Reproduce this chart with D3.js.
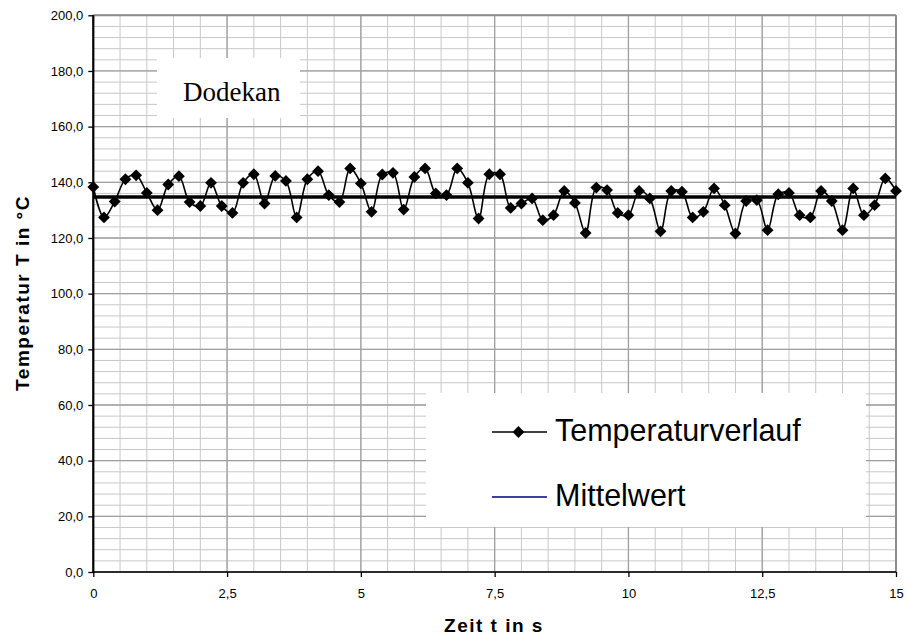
<!DOCTYPE html>
<html>
<head>
<meta charset="utf-8">
<script src="https://cdn.jsdelivr.net/npm/d3@7.9.0/dist/d3.min.js"></script>
<style>
  body { margin: 0; background: #fff; }
  svg { display: block; font-family: "Liberation Sans", Arial, sans-serif; }
</style>
</head>
<body>
<svg id="chart" width="907" height="639"></svg>
<script>
// Zeitpunkte (s) und gemessene Temperatur (°C)
const zeit = [
  0, 0.2, 0.4, 0.6, 0.8, 1, 1.2, 1.4, 1.6, 1.8,
  2, 2.2, 2.4, 2.6, 2.8, 3, 3.2, 3.4, 3.6, 3.8,
  4, 4.2, 4.4, 4.6, 4.8, 5, 5.2, 5.4, 5.6, 5.8,
  6, 6.2, 6.4, 6.6, 6.8, 7, 7.2, 7.4, 7.6, 7.8,
  8, 8.2, 8.4, 8.6, 8.8, 9, 9.2, 9.4, 9.6, 9.8,
  10, 10.2, 10.4, 10.6, 10.8, 11, 11.2, 11.4, 11.6, 11.8,
  12, 12.2, 12.4, 12.6, 12.8, 13, 13.2, 13.4, 13.6, 13.8,
  14, 14.2, 14.4, 14.6, 14.8, 15
];
const temperatur = [
  138.3, 127.4, 133.1, 141.1, 142.5, 136.2, 130.0, 139.2, 142.2, 132.9,
  131.5, 139.8, 131.5, 129.0, 139.8, 142.9, 132.4, 142.3, 140.5, 127.4,
  141.1, 144.0, 135.4, 132.9, 145.0, 139.6, 129.4, 142.8, 143.4, 130.2,
  141.9, 145.0, 136.0, 135.4, 145.0, 139.8, 127.0, 142.9, 142.9, 130.8,
  132.4, 134.2, 126.4, 128.2, 136.9, 132.6, 121.8, 138.1, 137.2, 129.0,
  128.2, 136.9, 134.2, 122.4, 136.9, 136.6, 127.4, 129.4, 137.8, 131.8,
  121.6, 133.3, 133.6, 122.8, 135.7, 136.2, 128.2, 127.4, 136.9, 133.3,
  122.8, 137.8, 128.2, 131.8, 141.4, 136.9
];
const mittelwert = [134.7, 134.7];
const mittelZeit = [0, 15];

const xTicks = [0, 2.5, 5, 7.5, 10, 12.5, 15];
const yTicks = [0, 20, 40, 60, 80, 100, 120, 140, 160, 180, 200];
const xMinor = d3.range(0, 15.01, 0.5);
const yMinor = d3.range(0, 200.1, 4);

const svg = d3.select('#chart');
const pLeft = 93.3, pRight = 896, pTop = 15.3, pBottom = 572;

const x = d3.scaleLinear().domain([0, 15]).range([pLeft, pRight]);
const y = d3.scaleLinear().domain([0, 200]).range([pBottom, pTop]);
const komma = v => String(v).replace('.', ',');

// Gitter
const grid = svg.append('g');
grid.selectAll('.xm').data(xMinor).join('line')
  .attr('x1', d => x(d)).attr('x2', d => x(d))
  .attr('y1', pTop).attr('y2', pBottom)
  .attr('stroke', '#c8c8c8').attr('stroke-width', 1);
grid.selectAll('.ym').data(yMinor).join('line')
  .attr('x1', pLeft).attr('x2', pRight)
  .attr('y1', d => y(d)).attr('y2', d => y(d))
  .attr('stroke', '#c8c8c8').attr('stroke-width', 1);
grid.selectAll('.xM').data(xTicks).join('line')
  .attr('x1', d => x(d)).attr('x2', d => x(d))
  .attr('y1', pTop).attr('y2', pBottom)
  .attr('stroke', '#a0a0a0').attr('stroke-width', 1.3);
grid.selectAll('.yM').data(yTicks).join('line')
  .attr('x1', pLeft).attr('x2', pRight)
  .attr('y1', d => y(d)).attr('y2', d => y(d))
  .attr('stroke', '#a0a0a0').attr('stroke-width', 1.3);

// Rahmen oben/rechts
svg.append('line').attr('x1', pLeft).attr('x2', pRight).attr('y1', pTop).attr('y2', pTop)
  .attr('stroke', '#8c8c8c').attr('stroke-width', 2);
svg.append('line').attr('x1', pRight).attr('x2', pRight).attr('y1', pTop).attr('y2', pBottom)
  .attr('stroke', '#8c8c8c').attr('stroke-width', 2);

// Textfeld "Dodekan"
svg.append('rect').attr('x', 157).attr('y', 58).attr('width', 143).attr('height', 60).attr('fill', '#fff');
svg.append('text').attr('x', 183).attr('y', 101)
  .attr('font-family', '"Liberation Serif", "Times New Roman", serif')
  .attr('font-size', 27).text('Dodekan');

// Achsen
const yAxis = d3.axisLeft(y).tickValues(yTicks).tickSize(5).tickPadding(5)
  .tickFormat(d => d3.format('.1f')(d).replace('.', ','));
const xAxis = d3.axisBottom(x).tickValues(xTicks).tickSize(5).tickPadding(12)
  .tickFormat(komma);

const gy = svg.append('g').attr('transform', `translate(${pLeft},0)`).call(yAxis);
const gx = svg.append('g').attr('transform', `translate(0,${pBottom})`).call(xAxis);
[gx, gy].forEach(g => {
  g.select('.domain').remove();
  g.selectAll('line').attr('stroke', '#000').attr('stroke-width', 1.3);
  g.selectAll('text').attr('font-size', 13).attr('fill', '#000')
    .attr('font-family', '"Liberation Sans", Arial, sans-serif');
});
svg.append('line').attr('x1', pLeft).attr('x2', pLeft).attr('y1', pTop).attr('y2', pBottom + 1)
  .attr('stroke', '#000').attr('stroke-width', 2.2);
svg.append('line').attr('x1', pLeft).attr('x2', pRight).attr('y1', pBottom).attr('y2', pBottom)
  .attr('stroke', '#000').attr('stroke-width', 1.6);

// Achsentitel
svg.append('text').attr('x', 494).attr('y', 632).attr('text-anchor', 'middle')
  .attr('font-weight', 'bold').attr('font-size', 19).attr('letter-spacing', 1.5)
  .text('Zeit t in s');
svg.append('text').attr('transform', 'translate(29,293) rotate(-90)').attr('text-anchor', 'middle')
  .attr('font-weight', 'bold').attr('font-size', 19).attr('letter-spacing', 1.5)
  .text('Temperatur T in °C');

// Mittelwert
svg.append('path')
  .datum(mittelZeit.map((t, i) => [t, mittelwert[i]]))
  .attr('d', d3.line().x(d => x(d[0])).y(d => y(d[1])))
  .attr('stroke', '#000').attr('stroke-width', 3.5).attr('fill', 'none');

// Temperaturverlauf
const punkte = zeit.map((t, i) => [t, temperatur[i]]);
svg.append('path').datum(punkte)
  .attr('d', d3.line().x(d => x(d[0])).y(d => y(d[1])).curve(d3.curveCatmullRom))
  .attr('stroke', '#000').attr('stroke-width', 1.6).attr('fill', 'none');

const raute = d3.symbol().type(d3.symbolSquare).size(70);
svg.selectAll('.pt').data(punkte).join('path')
  .attr('d', raute)
  .attr('transform', d => `translate(${x(d[0])},${y(d[1])}) rotate(45)`)
  .attr('fill', '#000');

// Legende
const leg = svg.append('g');
leg.append('rect').attr('x', 426).attr('y', 393).attr('width', 440).attr('height', 134).attr('fill', '#fff');
leg.append('line').attr('x1', 492).attr('x2', 547).attr('y1', 432).attr('y2', 432)
  .attr('stroke', '#000').attr('stroke-width', 1.6);
leg.append('path').attr('d', raute).attr('transform', 'translate(518.5,432) rotate(45)').attr('fill', '#000');
leg.append('text').attr('x', 555).attr('y', 441).attr('font-size', 30.5).text('Temperaturverlauf');
leg.append('line').attr('x1', 492).attr('x2', 547).attr('y1', 497).attr('y2', 497)
  .attr('stroke', '#000080').attr('stroke-width', 1.6);
leg.append('text').attr('x', 555).attr('y', 506).attr('font-size', 30.5).text('Mittelwert');
</script>
</body>
</html>
